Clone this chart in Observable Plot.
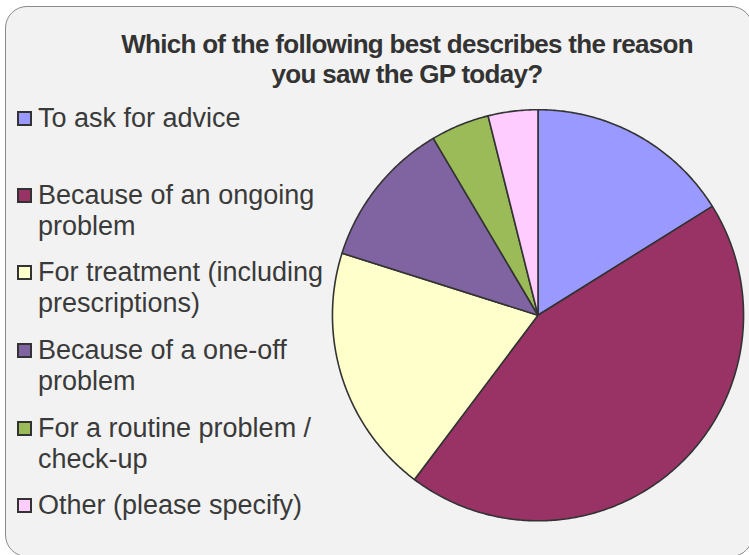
<!DOCTYPE html>
<html>
<head>
<meta charset="utf-8">
<script src="https://cdn.jsdelivr.net/npm/d3@7"></script>
<script src="https://cdn.jsdelivr.net/npm/@observablehq/plot@0.6"></script>
<style>
  html, body { margin: 0; padding: 0; background: #ffffff; }
  #wrap { position: relative; width: 749px; height: 555px; overflow: hidden; background: #ffffff; font-family: "Liberation Sans", Arial, sans-serif; }
  #box { position: absolute; left: 5px; top: 6px; width: 748px; height: 551px; border: 1px solid #8a8a8a; border-radius: 22px; background: #f2f2f2; box-sizing: border-box; }
  #title { position: absolute; left: 57px; width: 700px; top: 29px; text-align: center; font-weight: bold; font-size: 26px; line-height: 30px; color: #333333; letter-spacing: -0.7px; }
  #chart { position: absolute; left: 0; top: 0; }
  .item { position: absolute; left: 17px; font-size: 27px; line-height: 31px; color: #3a3a3a; white-space: nowrap; }
  .sw { position: absolute; left: 0; width: 15px; height: 15px; box-sizing: border-box; border: 2px solid #333333; }
  .lab { position: absolute; left: 21px; top: 0; }
</style>
</head>
<body>
<div id="wrap">
  <div id="box"></div>
  <div id="title">Which of the following best describes the reason<br>you saw the GP today?</div>
  <div id="chart"></div>
  <div id="legend"></div>
</div>
<script>
// Data
const categories = [
  "To ask for advice",
  "Because of an ongoing problem",
  "For treatment (including prescriptions)",
  "Because of a one-off problem",
  "For a routine problem / check-up",
  "Other (please specify)"
];
const legendLabels = [
  ["To ask for advice"],
  ["Because of an ongoing", "problem"],
  ["For treatment (including", "prescriptions)"],
  ["Because of a one-off", "problem"],
  ["For a routine problem /", "check-up"],
  ["Other (please specify)"]
];
const shares = [16.1, 44.1, 19.6, 11.6, 4.6, 3.9];
const colors = ["#9999FF", "#993366", "#FFFFCC", "#8064A2", "#9BBB59", "#FFCCFF"];
const legendCenters = [118, 195, 272, 350, 428, 505];

const table = categories.map((c, i) => ({category: c, share: shares[i]}));

// Build slice polygons from d3.pie angles (clockwise from 12 o'clock)
const arcs = d3.pie().sort(null).value(d => d.share)(table);
const features = arcs.map(a => {
  const n = Math.max(2, Math.ceil((a.endAngle - a.startAngle) / 0.01));
  const ring = [[0, 0]];
  for (let k = 0; k <= n; k++) {
    const t = a.startAngle + (a.endAngle - a.startAngle) * k / n;
    ring.push([Math.sin(t), -Math.cos(t)]);
  }
  ring.push([0, 0]);
  return {type: "Feature", properties: {category: a.data.category}, geometry: {type: "Polygon", coordinates: [ring]}};
});
const outline = {type: "FeatureCollection", features};

const chart = Plot.plot({
  width: 749,
  height: 555,
  marginLeft: 331.7,
  marginRight: 5.7,
  marginTop: 109.2,
  marginBottom: 34.7,
  style: {background: "transparent"},
  projection: {type: "identity", domain: outline, inset: 0},
  color: {domain: categories, range: colors},
  marks: [
    Plot.geo(features, {fill: d => d.properties.category, stroke: "#333333", strokeWidth: 1.6, strokeLinejoin: "round"})
  ]
});
document.getElementById("chart").appendChild(chart);

// Legend (HTML, from the same arrays)
const legend = document.getElementById("legend");
categories.forEach((c, i) => {
  const item = document.createElement("div");
  item.className = "item";
  item.style.top = (legendCenters[i] - 15.5) + "px";
  const sw = document.createElement("div");
  sw.className = "sw";
  sw.style.background = colors[i];
  sw.style.top = "8px";
  const lab = document.createElement("div");
  lab.className = "lab";
  lab.innerHTML = legendLabels[i].join("<br>");
  item.appendChild(sw);
  item.appendChild(lab);
  legend.appendChild(item);
});
</script>
</body>
</html>
